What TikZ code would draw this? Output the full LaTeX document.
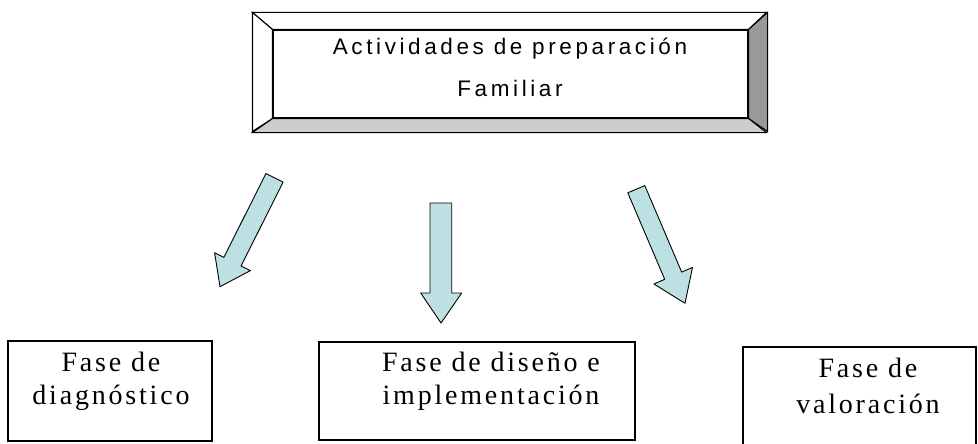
\documentclass[tikz,border=0pt]{standalone}
\usepackage{fontspec}
\setmainfont{Liberation Serif}[LetterSpace=10]
\newfontfamily\arialfont{Liberation Sans}[LetterSpace=16]
\usepackage{tikz}
\usetikzlibrary{positioning, calc}
\definecolor{celeste}{RGB}{189,224,227}
\definecolor{cara}{RGB}{153,153,153}
\definecolor{base}{RGB}{204,204,204}

\begin{document}
\begin{tikzpicture}[x=1pt, y=-1pt, line width=1.1pt,
	caja/.style={draw, inner sep=0pt},
	texto/.style={align=center, inner sep=0pt, anchor=north, font=\fontsize{28}{33}\selectfont},
	flecha/.style={draw, fill=celeste, line width=0.9pt, line join=round}]
	\clip (0,0) rectangle (978,444);
	
	% marco con bisel
	\node[caja, minimum width=475pt, minimum height=88pt] (act) at (510.5,74) {};
	\filldraw[fill=white] (act.north west) -- ++(-20,-17) -- ++(514,0) -- (act.north east) -- cycle;
	\filldraw[fill=white] (act.north west) -- ++(-20,-17) -- ++(0,119) -- (act.south west) -- cycle;
	\filldraw[fill=cara] (act.north east) -- ++(19,-17) -- ++(0,119) -- (act.south east) -- cycle;
	\filldraw[fill=base] (act.south west) -- ++(-20,14) -- ++(514,0) -- (act.south east) -- cycle;
	\node[align=center, inner sep=0pt, anchor=north, font=\arialfont\fontsize{22.5}{42}\selectfont] (acttxt) at (510,37) {Actividades de preparación\\Familiar};
	
	% flechas
	\draw[flecha] (265.9,173.5) -- (283.1,182.1) -- (241.1,266) -- (250.4,270.6) -- (220,286.7) -- (214.6,252.8) -- (223.9,257.4) -- cycle;
	\draw[flecha] (430,203) -- (451.7,203) -- (451.7,293) -- (461.7,293) -- (441,323) -- (420.7,293) -- (430,293) -- cycle;
	\draw[flecha] (627.8,192.8) -- (644.8,185.6) -- (681.7,272.1) -- (692.5,267.4) -- (685,303.3) -- (653.9,284) -- (664.7,279.3) -- cycle;
	
	% fases
	\node[caja, minimum width=204pt, minimum height=100pt] (diag) at (110,391) {};
	\node[texto] (diagtxt) at (111,352) {Fase de\\diagnóstico};
	
	\node[caja, minimum width=316pt, minimum height=98pt] (dis) at (477,391) {};
	\node[texto] (distxt) at (491,352) {Fase de diseño e\\implementación};
	
	\node[caja, minimum width=233pt, minimum height=133pt] (val) at (859.5,413.5) {};
	\node[texto, font=\fontsize{28}{36}\selectfont] (valtxt) at (868,358) {Fase de\\valoración};
\end{tikzpicture}
\end{document}
